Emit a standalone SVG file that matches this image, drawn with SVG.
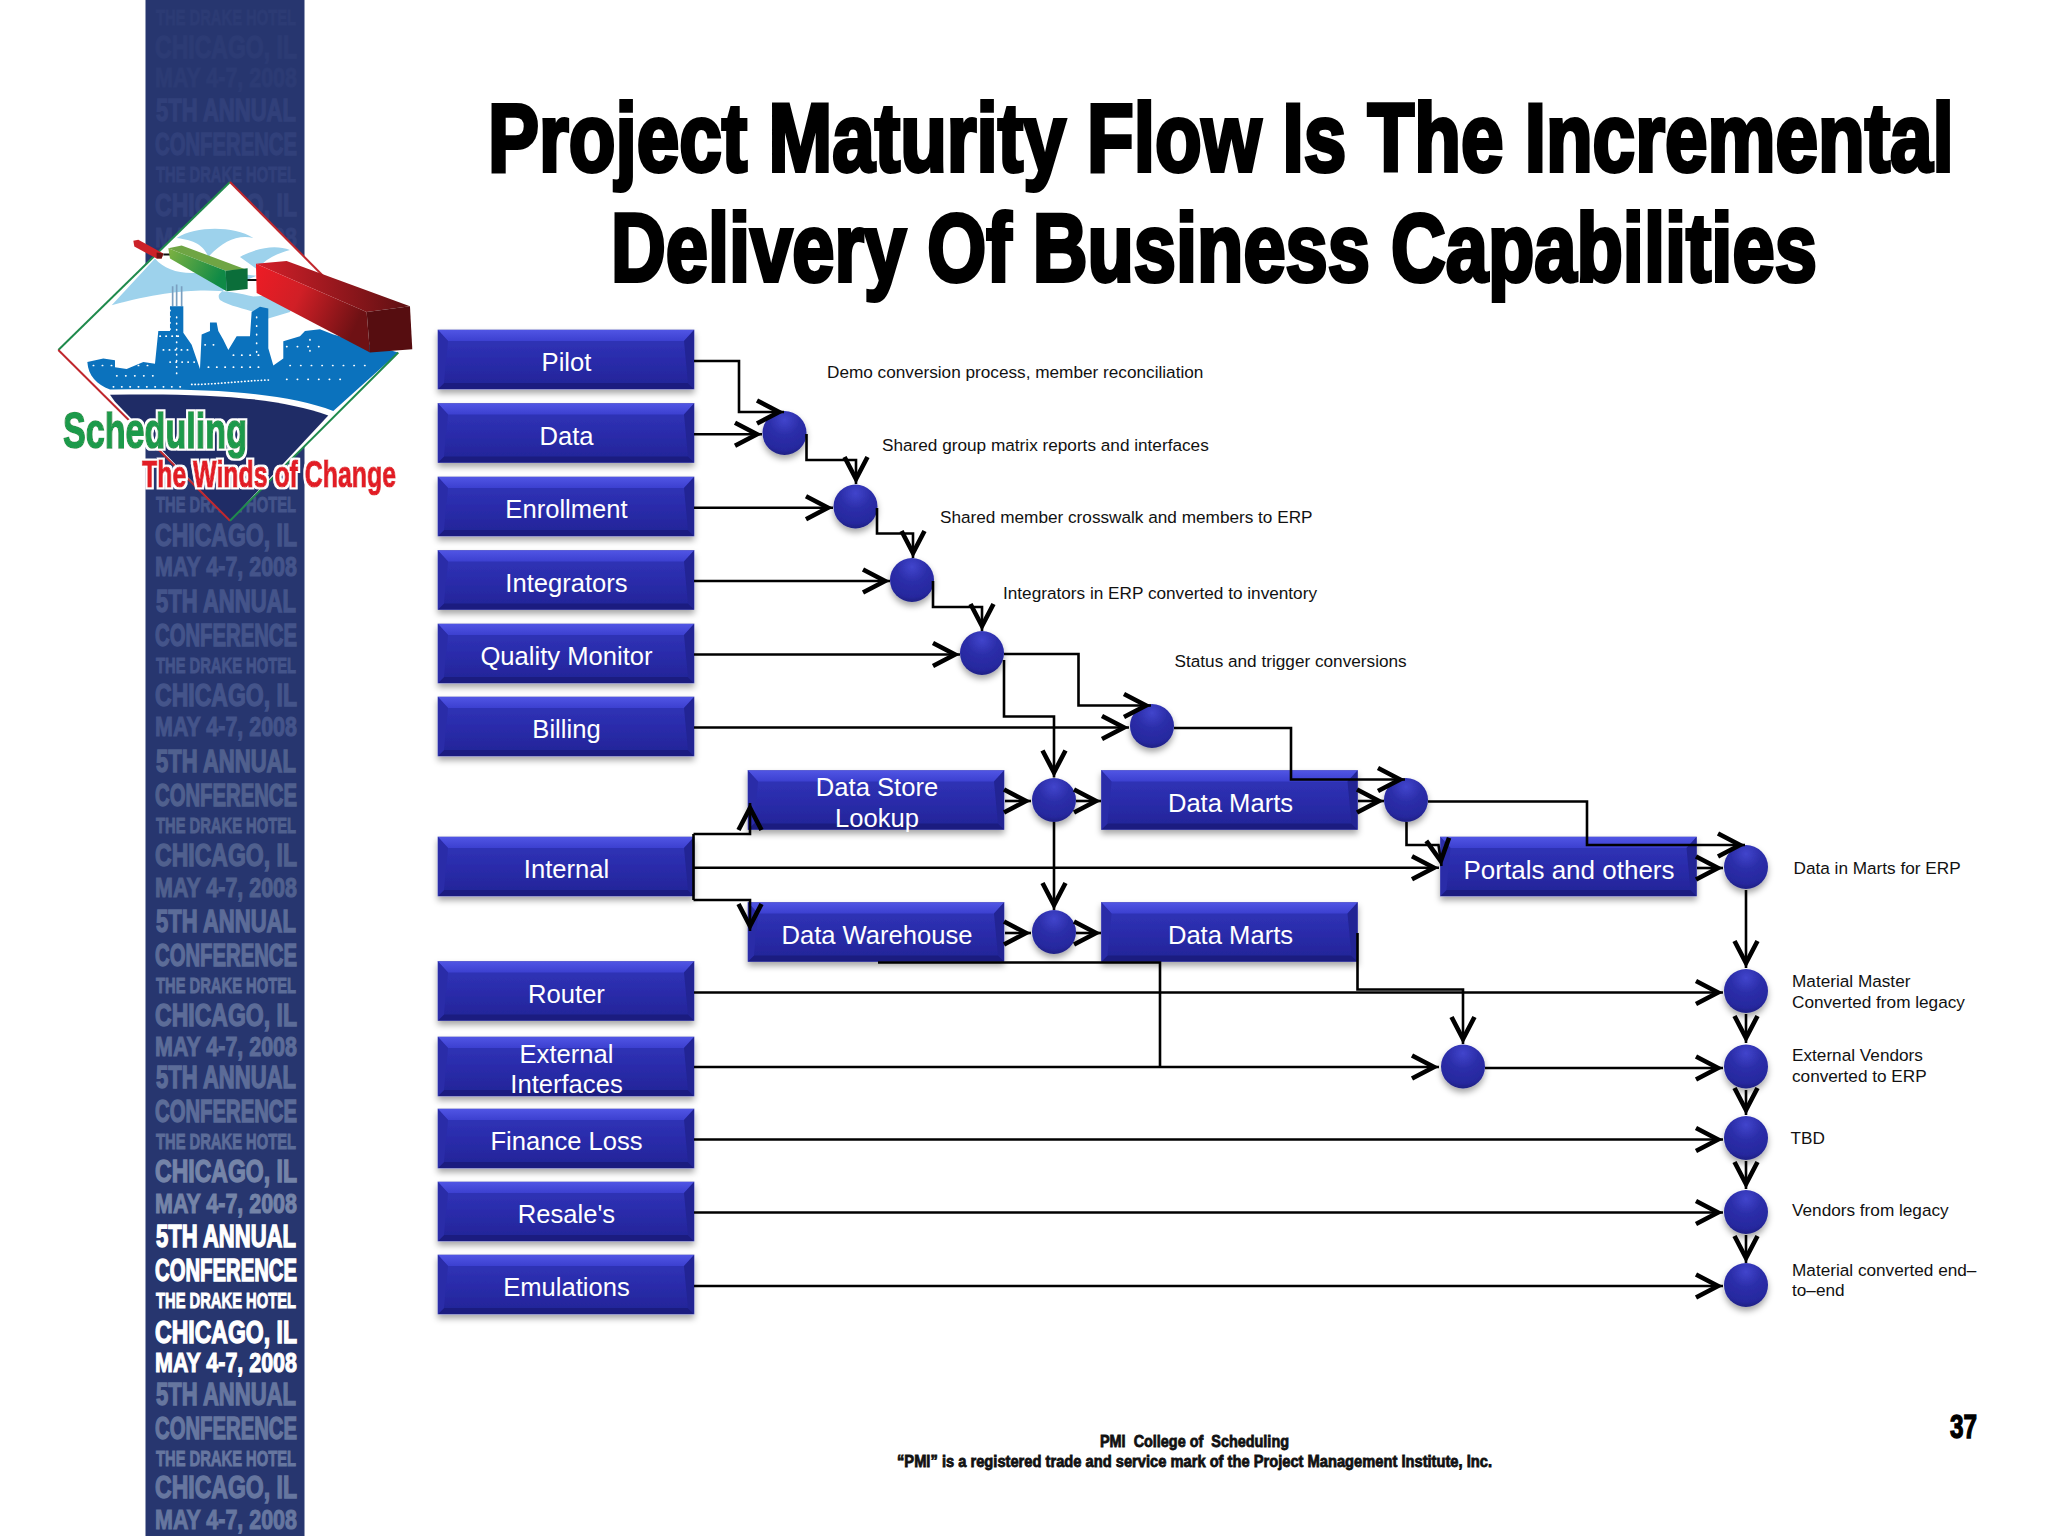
<svg xmlns="http://www.w3.org/2000/svg" width="2048" height="1536" viewBox="0 0 2048 1536">
<style>
text{font-family:"Liberation Sans",Arial,sans-serif}
.bt{fill:#fff;font-size:25.6px;text-anchor:middle}
.lb{fill:#111;font-size:17.2px}
.ti{fill:#000;font-size:97px;font-weight:700;stroke:#000;stroke-width:4px}
.ft{fill:#111;font-size:16.5px;font-weight:700;stroke:#111;stroke-width:.8px}
.a{font-size:31px;font-weight:700;stroke-width:1.4px}
.b{font-size:31px;font-weight:700;stroke-width:1.4px}
.c{font-size:22.5px;font-weight:700;stroke-width:1px}
.d{font-size:32px;font-weight:700;stroke-width:1.4px}
.e{font-size:28px;font-weight:700;stroke-width:1.1px}
.k0{fill:#2c3b74;stroke:#2c3b74}.k1{fill:#31407a;stroke:#31407a}.k2{fill:#44548a;stroke:#44548a}.k3{fill:#50608e;stroke:#50608e}.k4{fill:#5c6c98;stroke:#5c6c98}.k5{fill:#7584a8;stroke:#7584a8}.k6{fill:#fff;stroke:#fff}.k7{fill:#66769f;stroke:#66769f}
.cn{fill:none;stroke:#000;stroke-width:2.6px}
.ar{marker-end:url(#hd)}
</style>
<defs>
<linearGradient id="bx" x1="0" y1="0" x2="0" y2="1"><stop offset="0" stop-color="#3235bb"/><stop offset=".5" stop-color="#2a2cab"/><stop offset="1" stop-color="#222496"/></linearGradient>
<linearGradient id="bt" x1="0" y1="0" x2="0" y2="1"><stop offset="0" stop-color="#5055e4"/><stop offset="1" stop-color="#3c40d0"/></linearGradient>
<radialGradient id="ci" cx=".5" cy=".2" r=".85"><stop offset="0" stop-color="#4145cc"/><stop offset=".4" stop-color="#2c2eaa"/><stop offset=".8" stop-color="#26289e"/><stop offset="1" stop-color="#1a1c78"/></radialGradient>
<linearGradient id="rd" x1="0" y1="0" x2="1" y2=".35"><stop offset="0" stop-color="#ee1c25"/><stop offset=".45" stop-color="#d01f26"/><stop offset="1" stop-color="#6e1114"/></linearGradient>
<linearGradient id="rt" x1="0" y1="0" x2="1" y2="0"><stop offset="0" stop-color="#d5202a"/><stop offset="1" stop-color="#5e1012"/></linearGradient>
<linearGradient id="gr" x1="0" y1="0" x2="1" y2=".4"><stop offset="0" stop-color="#7fb241"/><stop offset="1" stop-color="#0f8a46"/></linearGradient>
<filter id="sh" x="-15%" y="-20%" width="130%" height="160%"><feDropShadow dx="0" dy="4" stdDeviation="3" flood-color="#000" flood-opacity=".35"/></filter>
<filter id="hl" x="-5%" y="-15%" width="110%" height="130%"><feMorphology in="SourceAlpha" operator="dilate" radius="2.2" result="d"/><feFlood flood-color="#fff"/><feComposite in2="d" operator="in" result="w"/><feMerge><feMergeNode in="w"/><feMergeNode in="SourceGraphic"/></feMerge></filter>
<marker id="hd" markerUnits="userSpaceOnUse" markerWidth="40" markerHeight="36" viewBox="0 0 40 36" refX="31" refY="18" orient="auto"><path d="M4,6.500 L26,18 L4,29.500" fill="none" stroke="#000" stroke-width="4.600"/></marker>
<g id="box"><rect x="0" y="0" width="256" height="59" fill="url(#bx)" stroke="#5a5cc0" stroke-width=".8" filter="url(#sh)"/><polygon points="0,0 256,0 246,11 10,11" fill="url(#bt)"/><polygon points="0,59 256,59 250,53 6,53" fill="#1b1c80"/><polygon points="0,0 10,11 6,53 0,59" fill="#2a2ca8"/><polygon points="256,0 246,11 250,53 256,59" fill="#222494"/></g>
<circle id="dot" r="22" fill="url(#ci)" filter="url(#sh)"/>
</defs>
<rect width="2048" height="1536" fill="#fff"/>
<g id="sidebar">
<rect x="145.500" y="0" width="159" height="1536" fill="#27366f"/>
<g text-anchor="start">
<text x="156" y="25" class="c k0" textLength="140" lengthAdjust="spacingAndGlyphs">THE DRAKE HOTEL</text>
<text x="155" y="58" class="d k0" textLength="142" lengthAdjust="spacingAndGlyphs">CHICAGO, IL</text>
<text x="155" y="87" class="e k0" textLength="142" lengthAdjust="spacingAndGlyphs">MAY 4-7, 2008</text>
<text x="156" y="121" class="a k1" textLength="140" lengthAdjust="spacingAndGlyphs">5TH ANNUAL</text>
<text x="155" y="155" class="b k1" textLength="142" lengthAdjust="spacingAndGlyphs">CONFERENCE</text>
<text x="156" y="182" class="c k1" textLength="140" lengthAdjust="spacingAndGlyphs">THE DRAKE HOTEL</text>
<text x="155" y="216" class="d k1" textLength="142" lengthAdjust="spacingAndGlyphs">CHICAGO, IL</text>
<text x="155" y="247" class="e k1" textLength="142" lengthAdjust="spacingAndGlyphs">MAY 4-7, 2008</text>
<text x="156" y="512" class="c k2" textLength="140" lengthAdjust="spacingAndGlyphs">THE DRAKE HOTEL</text>
<text x="155" y="546" class="d k2" textLength="142" lengthAdjust="spacingAndGlyphs">CHICAGO, IL</text>
<text x="155" y="576" class="e k2" textLength="142" lengthAdjust="spacingAndGlyphs">MAY 4-7, 2008</text>
<text x="156" y="612" class="a k2" textLength="140" lengthAdjust="spacingAndGlyphs">5TH ANNUAL</text>
<text x="155" y="646" class="b k2" textLength="142" lengthAdjust="spacingAndGlyphs">CONFERENCE</text>
<text x="156" y="673" class="c k2" textLength="140" lengthAdjust="spacingAndGlyphs">THE DRAKE HOTEL</text>
<text x="155" y="706" class="d k2" textLength="142" lengthAdjust="spacingAndGlyphs">CHICAGO, IL</text>
<text x="155" y="736" class="e k2" textLength="142" lengthAdjust="spacingAndGlyphs">MAY 4-7, 2008</text>
<text x="156" y="772" class="a k3" textLength="140" lengthAdjust="spacingAndGlyphs">5TH ANNUAL</text>
<text x="155" y="806" class="b k3" textLength="142" lengthAdjust="spacingAndGlyphs">CONFERENCE</text>
<text x="156" y="833" class="c k3" textLength="140" lengthAdjust="spacingAndGlyphs">THE DRAKE HOTEL</text>
<text x="155" y="866" class="d k3" textLength="142" lengthAdjust="spacingAndGlyphs">CHICAGO, IL</text>
<text x="155" y="897" class="e k3" textLength="142" lengthAdjust="spacingAndGlyphs">MAY 4-7, 2008</text>
<text x="156" y="932" class="a k4" textLength="140" lengthAdjust="spacingAndGlyphs">5TH ANNUAL</text>
<text x="155" y="966" class="b k4" textLength="142" lengthAdjust="spacingAndGlyphs">CONFERENCE</text>
<text x="156" y="993" class="c k4" textLength="140" lengthAdjust="spacingAndGlyphs">THE DRAKE HOTEL</text>
<text x="155" y="1026" class="d k4" textLength="142" lengthAdjust="spacingAndGlyphs">CHICAGO, IL</text>
<text x="155" y="1056" class="e k4" textLength="142" lengthAdjust="spacingAndGlyphs">MAY 4-7, 2008</text>
<text x="156" y="1088" class="a k4" textLength="140" lengthAdjust="spacingAndGlyphs">5TH ANNUAL</text>
<text x="155" y="1122" class="b k4" textLength="142" lengthAdjust="spacingAndGlyphs">CONFERENCE</text>
<text x="156" y="1149" class="c k4" textLength="140" lengthAdjust="spacingAndGlyphs">THE DRAKE HOTEL</text>
<text x="155" y="1182" class="d k5" textLength="142" lengthAdjust="spacingAndGlyphs">CHICAGO, IL</text>
<text x="155" y="1213" class="e k5" textLength="142" lengthAdjust="spacingAndGlyphs">MAY 4-7, 2008</text>
<text x="156" y="1247" class="a k6" textLength="140" lengthAdjust="spacingAndGlyphs">5TH ANNUAL</text>
<text x="155" y="1281" class="b k6" textLength="142" lengthAdjust="spacingAndGlyphs">CONFERENCE</text>
<text x="156" y="1308" class="c k6" textLength="140" lengthAdjust="spacingAndGlyphs">THE DRAKE HOTEL</text>
<text x="155" y="1343" class="d k6" textLength="142" lengthAdjust="spacingAndGlyphs">CHICAGO, IL</text>
<text x="155" y="1372" class="e k6" textLength="142" lengthAdjust="spacingAndGlyphs">MAY 4-7, 2008</text>
<text x="156" y="1405" class="a k7" textLength="140" lengthAdjust="spacingAndGlyphs">5TH ANNUAL</text>
<text x="155" y="1439" class="b k7" textLength="142" lengthAdjust="spacingAndGlyphs">CONFERENCE</text>
<text x="156" y="1466" class="c k7" textLength="140" lengthAdjust="spacingAndGlyphs">THE DRAKE HOTEL</text>
<text x="155" y="1498" class="d k7" textLength="142" lengthAdjust="spacingAndGlyphs">CHICAGO, IL</text>
<text x="155" y="1529" class="e k7" textLength="142" lengthAdjust="spacingAndGlyphs">MAY 4-7, 2008</text>
</g>
</g>
<g id="logo">
<g transform="scale(.3333 .3448)">
<polygon points="690,528 1195,1022 690,1510 175,1015" fill="#fff"/>
<path d="M335,885 L465,750 C500,790 560,800 640,785 L770,800 C700,830 640,845 660,870 C700,895 760,895 800,925 L870,905 L900,850 L760,860 C680,840 560,825 335,885Z" fill="#9dd2ec"/>
<path d="M530,690 C590,655 700,655 760,690 C710,680 670,700 625,745 C610,705 570,695 530,690Z M720,745 C780,715 830,710 870,725 C830,735 800,750 770,780Z" fill="#9dd2ec"/>
<path d="M518,830V888M530,825V888M545,830V888" stroke="#7a9fc0" stroke-width="5" fill="none"/>
<path d="M262,1050L310,1040L345,1045L345,1065L380,1070L430,1050L465,1055L475,960L510,960L510,888L550,888L550,965L575,1000L600,1070L605,970L630,960L630,935L650,935L655,960L670,985L685,1015L710,975L750,975L755,905L780,890L805,895L805,1010L820,1060L850,1040L850,990L900,975L915,960L960,955L1000,970L1195,1022L1000,1192C860,1140 640,1125 330,1130C290,1115 265,1090 262,1050Z" fill="#0b72bd"/>
<path d="M330,1145C600,1140 830,1150 985,1205L690,1510L345,1165Z" fill="#1f2c66"/>
<g fill="none" stroke="#fff" stroke-width="5" stroke-linecap="round">
<path d="M340,1122H560" stroke-dasharray="1 24"/>
<path d="M575,1115C650,1115 720,1105 810,1102" stroke-dasharray="1 9"/>
<path d="M280,1060H460M350,1090H460" stroke-dasharray="1 26"/>
<path d="M480,975H550M490,1015H570M510,1050H585M510,900V960M530,920V1090" stroke-dasharray="1 17"/>
<path d="M615,1000H660M625,1065H800M770,920V1030M700,1030H780" stroke-dasharray="1 24"/>
<path d="M860,1005H960M870,1060H1100M860,1100H1030M930,985V1040" stroke-dasharray="1 31"/>
</g>
<path d="M690,528L175,1015" stroke="#1f8a4c" stroke-width="6"/>
<path d="M690,528L1000,830" stroke="#c0272d" stroke-width="6"/>
<path d="M175,1015L690,1510" stroke="#c0272d" stroke-width="6"/>
<path d="M1195,1022L690,1510" stroke="#1f8a4c" stroke-width="6"/>
<path d="M490,738H510M740,812H772" stroke="#111" stroke-width="6"/>
<polygon points="400,698 415,695 490,735 485,750 470,750 403,715" fill="#cc2229"/>
<polygon points="470,732 490,735 485,750 470,750" fill="#6e1114"/>
<polygon points="505,720 545,712 740,782 677,785" fill="#6fa544"/>
<polygon points="505,720 677,785 680,845 510,750" fill="url(#gr)"/>
<polygon points="677,785 743,778 743,838 680,845" fill="#0b6e3a"/>
<polygon points="768,765 860,757 1230,888 1100,905" fill="url(#rt)"/>
<polygon points="768,765 1100,905 1110,1022 770,850" fill="url(#rd)"/>
<polygon points="1100,905 1230,888 1237,1013 1110,1022" fill="#560d10"/>
</g>
<text x="63" y="448" font-size="50" font-weight="700" fill="#1f9a4b" stroke="#1f9a4b" stroke-width="1.6" filter="url(#hl)" textLength="184" lengthAdjust="spacingAndGlyphs">Scheduling</text>
<text x="142" y="487" font-size="37" font-weight="700" fill="#e21b25" stroke="#e21b25" stroke-width="1.2" filter="url(#hl)" textLength="254" lengthAdjust="spacingAndGlyphs">The Winds of Change</text>
</g>
<g id="title">
<text transform="translate(488,171) scale(.66 1)" class="ti" textLength="2221" lengthAdjust="spacingAndGlyphs">Project Maturity Flow Is The Incremental</text>
<text transform="translate(611,281) scale(.66 1)" class="ti" textLength="1827" lengthAdjust="spacingAndGlyphs">Delivery Of Business Capabilities</text>
</g>
<g id="n-pilot" transform="translate(438,330)"><use href="#box"/><text x="128.500" y="41" class="bt">Pilot</text></g>
<g id="n-data" transform="translate(438,403.500)"><use href="#box"/><text x="128.500" y="41" class="bt">Data</text></g>
<g id="n-enrollment" transform="translate(438,477)"><use href="#box"/><text x="128.500" y="41" class="bt">Enrollment</text></g>
<g id="n-integrators" transform="translate(438,550.500)"><use href="#box"/><text x="128.500" y="41" class="bt">Integrators</text></g>
<g id="n-quality" transform="translate(438,624)"><use href="#box"/><text x="128.500" y="41" class="bt">Quality Monitor</text></g>
<g id="n-billing" transform="translate(438,697)"><use href="#box"/><text x="128.500" y="41" class="bt">Billing</text></g>
<g id="n-datastore" transform="translate(748,770.500)"><use href="#box"/><text x="129" y="25" class="bt">Data Store</text><text x="129" y="56" class="bt">Lookup</text></g>
<g id="n-datamarts1" transform="translate(1101.500,770.500)"><use href="#box"/><text x="129" y="41" class="bt">Data Marts</text></g>
<g id="n-internal" transform="translate(438,837)"><use href="#box"/><text x="128.500" y="41" class="bt">Internal</text></g>
<g id="n-portals" transform="translate(1440.500,837)"><use href="#box"/><text x="128.500" y="42" class="bt" style="font-size:26px">Portals and others</text></g>
<g id="n-warehouse" transform="translate(748,902.500)"><use href="#box"/><text x="129" y="41" class="bt">Data Warehouse</text></g>
<g id="n-datamarts2" transform="translate(1101.500,902.500)"><use href="#box"/><text x="129" y="41" class="bt">Data Marts</text></g>
<g id="n-router" transform="translate(438,961.500)"><use href="#box"/><text x="128.500" y="41" class="bt">Router</text></g>
<g id="n-external" transform="translate(438,1037)"><use href="#box"/><text x="128.500" y="26" class="bt">External</text><text x="128.500" y="56" class="bt">Interfaces</text></g>
<g id="n-finance" transform="translate(438,1109)"><use href="#box"/><text x="128.500" y="40.500" class="bt">Finance Loss</text></g>
<g id="n-resale" transform="translate(438,1182)"><use href="#box"/><text x="128.500" y="40.500" class="bt">Resale's</text></g>
<g id="n-emulations" transform="translate(438,1255)"><use href="#box"/><text x="128.500" y="40.500" class="bt">Emulations</text></g>
<g id="j1"><use href="#dot" x="784.500" y="433"/></g>
<g id="j2"><use href="#dot" x="855.500" y="506.500"/></g>
<g id="j3"><use href="#dot" x="912" y="580"/></g>
<g id="j4"><use href="#dot" x="982" y="653"/></g>
<g id="j5"><use href="#dot" x="1152" y="726"/></g>
<g id="j6"><use href="#dot" x="1054" y="800"/></g>
<g id="j7"><use href="#dot" x="1054" y="932"/></g>
<g id="j8"><use href="#dot" x="1406" y="800"/></g>
<g id="j9"><use href="#dot" x="1463" y="1066.500"/></g>
<g id="r1"><use href="#dot" x="1746" y="867"/></g>
<g id="r2"><use href="#dot" x="1746" y="991"/></g>
<g id="r3"><use href="#dot" x="1746" y="1066.500"/></g>
<g id="r4"><use href="#dot" x="1746" y="1138"/></g>
<g id="r5"><use href="#dot" x="1746" y="1212"/></g>
<g id="r6"><use href="#dot" x="1746" y="1285"/></g>
<g id="connectors">
<path class="cn ar" d="M694,361H739V412H784"/>
<path class="cn ar" d="M694,434.300H762"/>
<path class="cn ar" d="M806.500,434V460H856V484"/>
<path class="cn ar" d="M694,507.700H833"/>
<path class="cn ar" d="M877,508V533.500H913V558"/>
<path class="cn ar" d="M694,581H890"/>
<path class="cn ar" d="M933,581V607H982V631"/>
<path class="cn ar" d="M694,654.500H960"/>
<path class="cn ar" d="M1004,654H1078.500V705.500H1151"/>
<path class="cn ar" d="M694,727.500H1129"/>
<path class="cn ar" d="M1004,660V716.500H1054V777.500"/>
<path class="cn ar" d="M1005,801H1031"/>
<path class="cn ar" d="M1076,801H1101"/>
<path class="cn ar" d="M1054,822V910"/>
<path class="cn ar" d="M1005,933H1031"/>
<path class="cn ar" d="M1076,933H1101"/>
<path class="cn ar" d="M1358,801H1384"/>
<path class="cn ar" d="M1174,728H1291V779.500H1405"/>
<path class="cn ar" d="M1428,801.500H1587V845H1745"/>
<path class="cn ar" d="M1406.500,822V845H1438.500L1441.500,866"/>
<path class="cn" d="M693.500,834V900"/>
<path class="cn ar" d="M693.500,834H750V803"/>
<path class="cn ar" d="M693.500,900H750V931"/>
<path class="cn ar" d="M693.500,867.700H1439"/>
<path class="cn" d="M878,962.500H1160V1067"/>
<path class="cn ar" d="M694,1067H1439"/>
<path class="cn ar" d="M1357.500,933V989.500H1463V1044"/>
<path class="cn ar" d="M694,992.500H1723"/>
<path class="cn ar" d="M1485,1068H1723"/>
<path class="cn ar" d="M1697,868H1723"/>
<path class="cn ar" d="M694,1139.500H1723"/>
<path class="cn ar" d="M694,1212.500H1723"/>
<path class="cn ar" d="M694,1286H1723"/>
<path class="cn ar" d="M1746,890V968"/>
<path class="cn ar" d="M1746,1014V1043"/>
<path class="cn ar" d="M1746,1090V1115"/>
<path class="cn ar" d="M1746,1161V1189"/>
<path class="cn ar" d="M1746,1235V1263"/>
</g>
<g id="labels">
<text x="827" y="378" class="lb">Demo conversion process, member reconciliation</text>
<text x="882" y="451" class="lb">Shared group matrix reports and interfaces</text>
<text x="940" y="523" class="lb">Shared member crosswalk and members to ERP</text>
<text x="1003" y="599" class="lb">Integrators in ERP converted to inventory</text>
<text x="1174.500" y="667" class="lb">Status and trigger conversions</text>
<text x="1793.500" y="874" class="lb">Data in Marts for ERP</text>
<text x="1792" y="987" class="lb">Material Master</text>
<text x="1792" y="1008" class="lb">Converted from legacy</text>
<text x="1792" y="1061" class="lb">External Vendors</text>
<text x="1792" y="1082" class="lb">converted to ERP</text>
<text x="1790.500" y="1144" class="lb">TBD</text>
<text x="1792" y="1216" class="lb">Vendors from legacy</text>
<text x="1792" y="1276" class="lb">Material converted end–</text>
<text x="1792" y="1296" class="lb">to–end</text>
</g>
<g id="footer">
<text x="1100" y="1447" class="ft" textLength="189" lengthAdjust="spacingAndGlyphs" xml:space="preserve">PMI  College of  Scheduling</text>
<text x="897" y="1467" class="ft" textLength="595" lengthAdjust="spacingAndGlyphs">“PMI” is a registered trade and service mark of the Project Management Institute, Inc.</text>
<text x="1950" y="1438" font-size="34" font-weight="700" fill="#000" stroke="#000" stroke-width="1.4" textLength="27" lengthAdjust="spacingAndGlyphs">37</text>
</g>
</svg>
